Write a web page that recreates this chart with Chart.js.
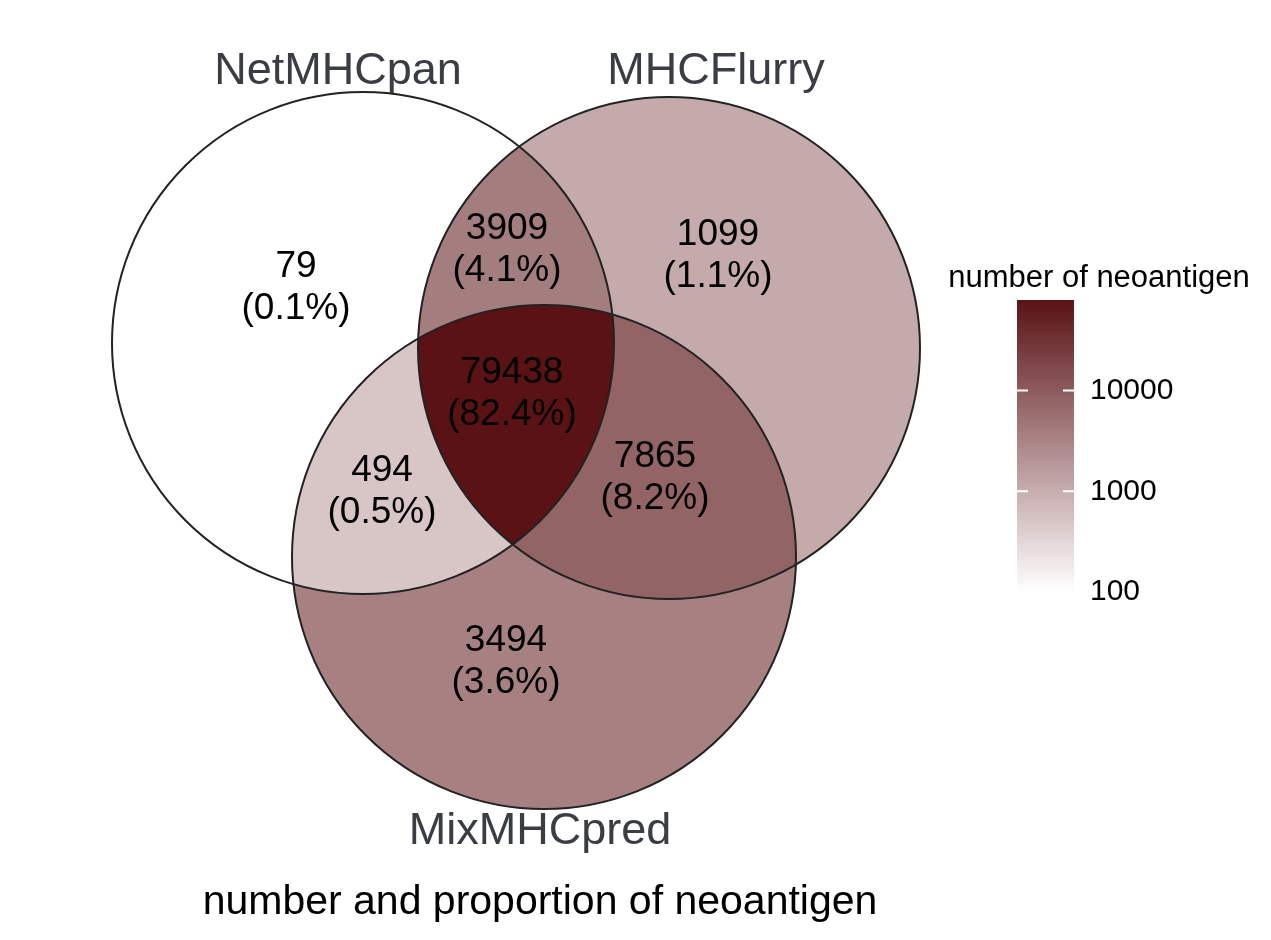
<!DOCTYPE html>
<html>
<head>
<meta charset="utf-8">
<script src="https://cdn.jsdelivr.net/npm/chart.js@4"></script>
<style>body{margin:0;background:#fff}</style>
</head>
<body>
<canvas id="venn" width="1271" height="940"></canvas>
<script>
const setNames = ['NetMHCpan', 'MHCFlurry', 'MixMHCpred']
// regions: which sets are inside (1) / outside (0)
const regionMembers = [[1,0,0],[1,1,0],[0,1,0],[1,1,1],[1,0,1],[0,1,1],[0,0,1]]
const regionCounts = [79, 3909, 1099, 79438, 494, 7865, 3494]
const regionPercents = ['0.1%', '4.1%', '1.1%', '82.4%', '0.5%', '8.2%', '3.6%']
const legendTicks = [100, 1000, 10000]

// layout (pixel-space coordinates of the plot scale)
const circles = [[363, 343, 251], [669, 348, 251], [544, 557, 252]]
const setLabelPos = [[338, 72], [716, 72], [540, 832]]
const regionLabelPos = [[296, 288], [507, 250], [718, 256], [512, 394], [382, 492], [655, 478], [506, 662]]

const low = [255, 255, 255], high = [90, 18, 21]
const logMin = 2, logMax = Math.log10(79438)
function fillFor(v) {
  let t = (Math.log10(v) - logMin) / (logMax - logMin)
  t = Math.max(0, Math.min(1, t))
  const c = low.map((l, i) => Math.round(l + (high[i] - l) * t))
  return `rgb(${c[0]},${c[1]},${c[2]})`
}

const vennPlugin = {
  id: 'venn',
  afterDatasetsDraw(chart) {
    const ctx = chart.ctx, xs = chart.scales.x, ys = chart.scales.y
    const px = v => xs.getPixelForValue(v), py = v => ys.getPixelForValue(v)
    const rad = r => Math.abs(xs.getPixelForValue(r) - xs.getPixelForValue(0))
    const circ = c => { ctx.beginPath(); ctx.arc(px(c[0]), py(c[1]), rad(c[2]), 0, Math.PI * 2) }

    // region fills
    regionMembers.forEach((m, i) => {
      ctx.save()
      m.forEach((inside, k) => {
        if (inside) { circ(circles[k]); ctx.clip() }
        else {
          ctx.beginPath()
          ctx.rect(0, 0, chart.width, chart.height)
          const c = circles[k]
          ctx.moveTo(px(c[0]) + rad(c[2]), py(c[1]))
          ctx.arc(px(c[0]), py(c[1]), rad(c[2]), 0, Math.PI * 2)
          ctx.clip('evenodd')
        }
      })
      ctx.fillStyle = fillFor(regionCounts[i])
      ctx.fillRect(0, 0, chart.width, chart.height)
      ctx.restore()
    })
    // outlines
    ctx.save()
    ctx.strokeStyle = '#222'
    ctx.lineWidth = 2
    circles.forEach(c => { circ(c); ctx.stroke() })
    ctx.restore()

    // region labels
    ctx.save()
    ctx.fillStyle = '#000'
    ctx.textAlign = 'center'
    ctx.textBaseline = 'middle'
    ctx.font = '37px "Liberation Sans", Arial'
    regionLabelPos.forEach((p, i) => {
      ctx.fillText(String(regionCounts[i]), px(p[0]), py(p[1]) - 21)
      ctx.fillText('(' + regionPercents[i] + ')', px(p[0]), py(p[1]) + 21)
    })
    // set names
    ctx.fillStyle = '#3a3d42'
    ctx.font = '45px "Liberation Sans", Arial'
    setLabelPos.forEach((p, i) => ctx.fillText(setNames[i], px(p[0]), py(p[1])))
    // bottom title
    ctx.fillStyle = '#000'
    ctx.font = '41px "Liberation Sans", Arial'
    ctx.fillText('number and proportion of neoantigen', px(540), py(903))

    // colour legend
    const bx = px(1017), bw = px(1074) - bx, top = py(300), bot = py(592)
    const valY = v => bot - (Math.log10(v) - logMin) / (logMax - logMin) * (bot - top)
    const g = ctx.createLinearGradient(0, bot, 0, top)
    for (let s = 0; s <= 10; s++) g.addColorStop(s / 10, fillFor(Math.pow(10, logMin + (logMax - logMin) * s / 10)))
    ctx.fillStyle = g
    ctx.fillRect(bx, top, bw, bot - top)
    ctx.strokeStyle = '#fff'
    ctx.lineWidth = 2
    ctx.fillStyle = '#000'
    ctx.textAlign = 'left'
    ctx.font = '30px "Liberation Sans", Arial'
    legendTicks.forEach(v => {
      const y = valY(v)
      ctx.beginPath()
      ctx.moveTo(bx, y); ctx.lineTo(bx + 11, y)
      ctx.moveTo(bx + bw - 11, y); ctx.lineTo(bx + bw, y)
      ctx.stroke()
      ctx.fillText(String(v), bx + bw + 16, y)
    })
    ctx.textAlign = 'center'
    ctx.font = '31px "Liberation Sans", Arial'
    ctx.fillText('number of neoantigen', px(1099), py(278))
    ctx.restore()
  }
}

new Chart(document.getElementById('venn').getContext('2d'), {
  type: 'scatter',
  data: { datasets: [{ data: [], pointRadius: 0 }] },
  plugins: [vennPlugin],
  options: {
    responsive: false,
    animation: false,
    layout: { padding: 0 },
    scales: {
      x: { type: 'linear', min: 0, max: 1271, display: false },
      y: { type: 'linear', min: 0, max: 940, reverse: true, display: false }
    },
    plugins: { legend: { display: false }, tooltip: { enabled: false } }
  }
})
</script>
</body>
</html>
